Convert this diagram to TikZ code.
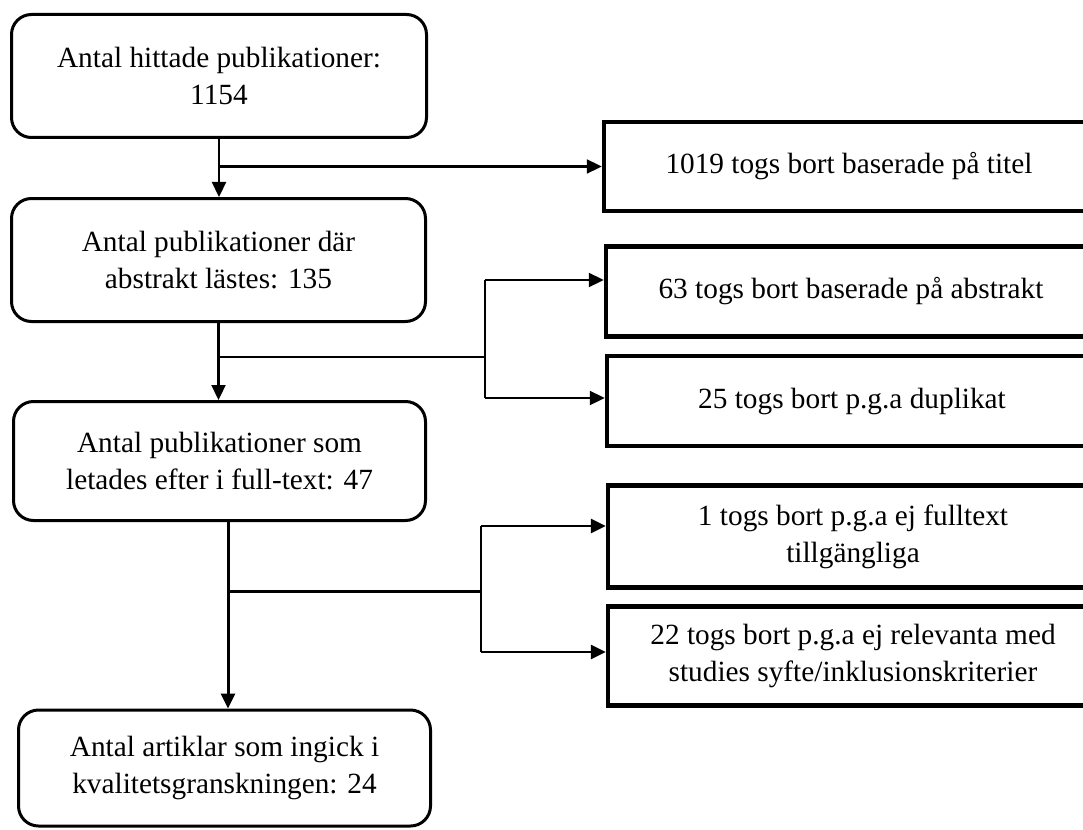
\documentclass[tikz,border=0pt]{standalone}
\usepackage{fontspec}
\setmainfont{Liberation Serif}
\usetikzlibrary{arrows.meta, positioning, calc}

\tikzset{
  roundbox/.style={draw=black, line width=3pt, rounded corners=20pt, align=center, inner sep=0pt, font=\fontsize{29.3}{37}\selectfont},
  dropbox/.style={draw=black, line width=4.5pt, align=center, inner sep=0pt, minimum width=490pt, font=\fontsize{29.3}{37}\selectfont},
  flowline/.style={line width=2.3pt},
  flowarrow/.style={line width=2.3pt, -{Triangle[length=15pt,width=14pt]}},
}

\begin{document}
\begin{tikzpicture}[x=1pt, y=-1pt]
  % Page frame
  \clip (0,0) rectangle (1083,829);
  \fill[white] (0,0) rectangle (1083,829);

  % Main column - rounded boxes
  \node[roundbox, minimum width=415pt, minimum height=123pt] (nHits) at (219,76) {Antal hittade publikationer:\\1154};
  \node[roundbox, minimum width=414pt, minimum height=123pt] (nAbstract) at (218.5,260) {Antal publikationer där\\abstrakt lästes: 135};
  \node[roundbox, minimum width=412pt, minimum height=119pt] (nFulltext) at (219.5,461) {Antal publikationer som\\letades efter i full-text: 47};
  \node[roundbox, minimum width=412pt, minimum height=116pt] (nIncluded) at (224.5,768) {Antal artiklar som ingick i\\kvalitetsgranskningen: 24};

  % Side column - removed publications
  \node[dropbox, minimum height=89pt] (nTitle) at (849,166.5) {1019 togs bort baserade på titel};
  \node[dropbox, minimum height=90pt] (nAbstr) at (851,291.5) {63 togs bort baserade på abstrakt};
  \node[dropbox, minimum height=90pt] (nDupl) at (852,401) {25 togs bort p.g.a duplikat};
  \node[dropbox, minimum height=102pt] (nNoText) at (853,536.5) {1 togs bort p.g.a ej fulltext\\tillgängliga};
  \node[dropbox, minimum height=99pt] (nIrrel) at (853,656) {22 togs bort p.g.a ej relevanta med\\studies syfte/inklusionskriterier};

  % First step
  \draw[flowarrow] (nHits.south) -- (nHits.south |- nAbstract.north);
  \coordinate (tTitle) at (nHits.south |- nTitle.west);
  \draw[flowarrow] (tTitle) -- (nTitle.west);

  % Second step
  \draw[flowarrow] (nAbstract.south) -- (nAbstract.south |- nFulltext.north);
  \coordinate (tAbstr) at (218.5,357);
  \coordinate (sAbstr) at (485,357);
  \coordinate (sAbstrTop) at (485,280);
  \coordinate (sAbstrBot) at (485,398);
  \draw[flowline] (tAbstr) -- (sAbstr);
  \draw[flowline] (sAbstrTop) -- (sAbstrBot);
  \draw[flowarrow] (sAbstrTop) -- (sAbstrTop -| nAbstr.west);
  \draw[flowarrow] (sAbstrBot) -- (sAbstrBot -| nDupl.west);

  % Third step
  \draw[flowarrow, line width=3pt] ([xshift=8.5pt]nFulltext.south) -- ([xshift=8.5pt]nFulltext.south |- nIncluded.north);
  \coordinate (tFull) at (228,591);
  \coordinate (sFull) at (481,591);
  \coordinate (sFullTop) at (481,526);
  \coordinate (sFullBot) at (481,652);
  \draw[flowline, line width=3pt] (tFull) -- (sFull);
  \draw[flowline] (sFullTop) -- (sFullBot);
  \draw[flowarrow, line width=2.6pt] (sFullTop) -- (sFullTop -| nNoText.west);
  \draw[flowarrow, line width=2.6pt] (sFullBot) -- (sFullBot -| nIrrel.west);
\end{tikzpicture}
\end{document}
